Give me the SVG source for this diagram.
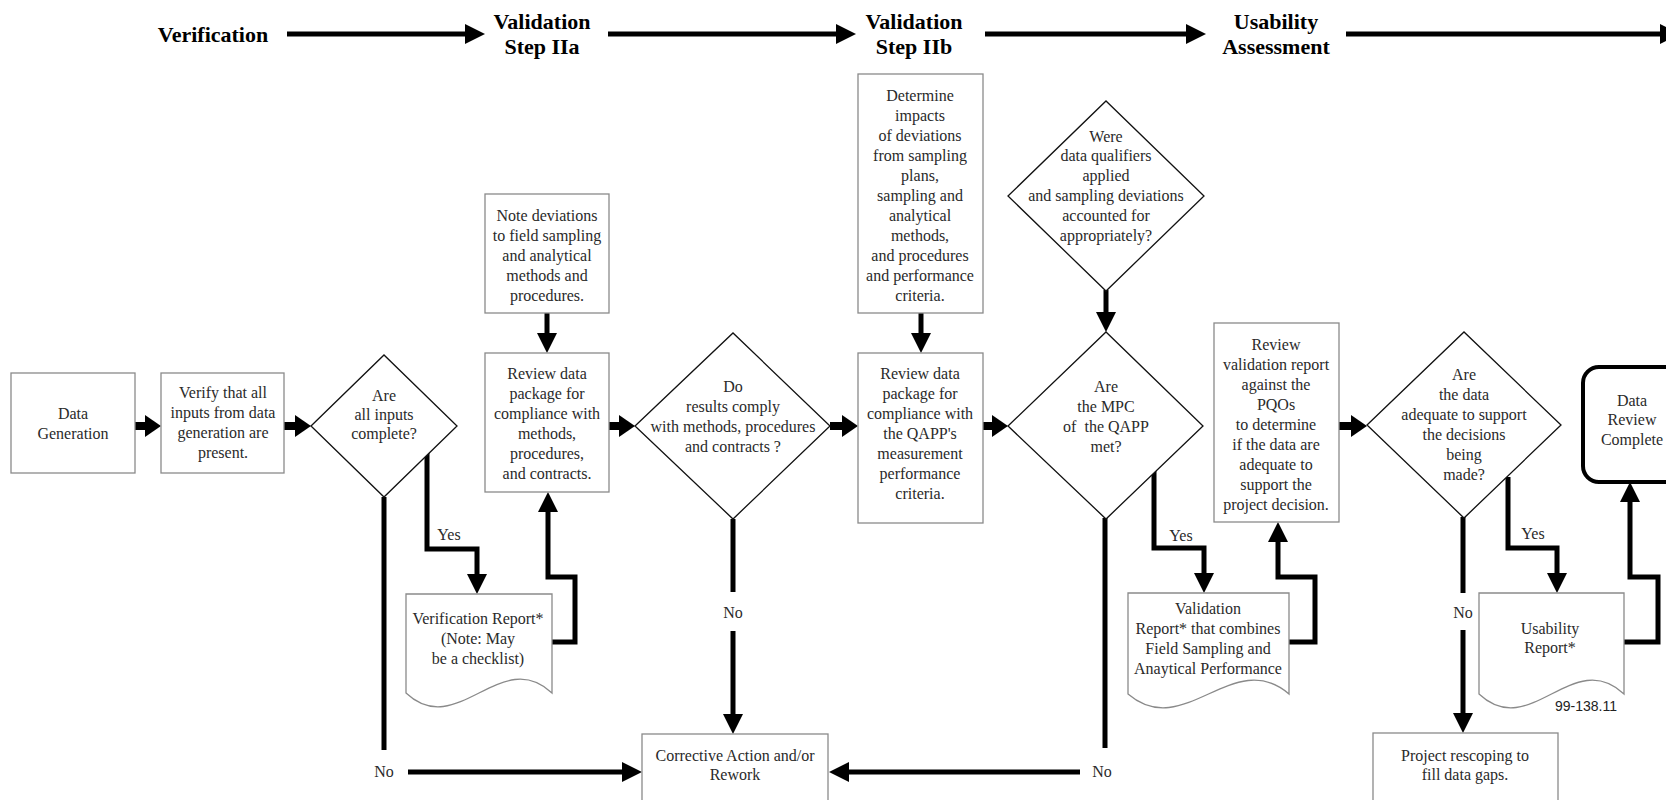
<svg xmlns="http://www.w3.org/2000/svg" width="1666" height="800" viewBox="0 0 1666 800">
<style>
.bx{fill:#fff;stroke:#8a8a8a;stroke-width:1.3}
.dm{fill:#fff;stroke:#111;stroke-width:1.3}
.dc{fill:#fff;stroke:#8a8a8a;stroke-width:1.3}
.t{font-family:"Liberation Serif","Times New Roman",serif;font-size:16px;fill:#2a2a2a;text-anchor:middle}
.h{font-family:"Liberation Serif","Times New Roman",serif;font-size:22px;font-weight:bold;fill:#000;text-anchor:middle}
.code{font-family:"Liberation Sans",Arial,sans-serif;font-size:14px;fill:#222;text-anchor:middle}
.c{fill:none;stroke:#000;stroke-width:5;stroke-linejoin:miter}
.cb{fill:none;stroke:#000;stroke-width:8}
</style>
<defs>
<marker id="ah" markerUnits="userSpaceOnUse" markerWidth="20" markerHeight="20" refX="8" refY="10" orient="auto"><path d="M0,0 L20,10 L0,20 z" fill="#000"/></marker>
<marker id="ahb" markerUnits="userSpaceOnUse" markerWidth="16" markerHeight="22" refX="6" refY="11" orient="auto"><path d="M0,0 L16,11 L0,22 z" fill="#000"/></marker>
</defs>
<rect width="1666" height="800" fill="#fff"/>

<g id="header">
<text class="h" x="213" y="42">Verification</text>
<text class="h" x="542" y="29">Validation</text>
<text class="h" x="542" y="54">Step IIa</text>
<text class="h" x="914" y="29">Validation</text>
<text class="h" x="914" y="54">Step IIb</text>
<text class="h" x="1276" y="29">Usability</text>
<text class="h" x="1276" y="54">Assessment</text>
</g>

<g id="connectors">
<path class="c" d="M287,34 H473" marker-end="url(#ah)"/>
<path class="c" d="M608,34 H844" marker-end="url(#ah)"/>
<path class="c" d="M985,34 H1194" marker-end="url(#ah)"/>
<path class="c" d="M1346,34 H1668" marker-end="url(#ah)"/>

<path class="cb" d="M135,426 H151" marker-end="url(#ahb)"/>
<path class="cb" d="M284,426 H301" marker-end="url(#ahb)"/>
<path class="cb" d="M609,426 H625" marker-end="url(#ahb)"/>
<path class="cb" d="M830,426 H848" marker-end="url(#ahb)"/>
<path class="cb" d="M983,426 H998" marker-end="url(#ahb)"/>
<path class="cb" d="M1339,426 H1357" marker-end="url(#ahb)"/>

<path class="c" d="M427,452 V549 H477 V582" marker-end="url(#ah)"/>
<path class="c" d="M384,497 V750"/>
<path class="c" d="M408,772 H630" marker-end="url(#ah)"/>
<path class="c" d="M552,642 H575 V577 H548 V504" marker-end="url(#ah)"/>
<path class="c" d="M547,313 V341" marker-end="url(#ah)"/>
<path class="c" d="M733,519 V592"/>
<path class="c" d="M733,631 V722" marker-end="url(#ah)"/>
<path class="c" d="M921,313 V341" marker-end="url(#ah)"/>
<path class="c" d="M1106,290 V320" marker-end="url(#ah)"/>
<path class="c" d="M1154,471 V548 H1204 V581" marker-end="url(#ah)"/>
<path class="c" d="M1105,518 V748"/>
<path class="c" d="M1080,772 H841" marker-end="url(#ah)"/>
<path class="c" d="M1289,642 H1315 V577 H1278 V534" marker-end="url(#ah)"/>
<path class="c" d="M1508,477 V548 H1557 V581" marker-end="url(#ah)"/>
<path class="c" d="M1463,517 V593"/>
<path class="c" d="M1463,630 V721" marker-end="url(#ah)"/>
<path class="c" d="M1624,642 H1658 V577 H1630 V494" marker-end="url(#ah)"/>

<text class="t" x="449" y="540">Yes</text>
<text class="t" x="384" y="777">No</text>
<text class="t" x="733" y="618">No</text>
<text class="t" x="1181" y="541">Yes</text>
<text class="t" x="1102" y="777">No</text>
<text class="t" x="1533" y="539">Yes</text>
<text class="t" x="1463" y="618">No</text>
</g>

<g id="data-generation">
<rect class="bx" x="11" y="373" width="124" height="100"/>
<text class="t" x="73" y="419">Data</text>
<text class="t" x="73" y="439">Generation</text>
</g>

<g id="verify-inputs">
<rect class="bx" x="161" y="373" width="123" height="100"/>
<text class="t" x="223" y="398">Verify that all</text>
<text class="t" x="223" y="418">inputs from data</text>
<text class="t" x="223" y="438">generation are</text>
<text class="t" x="223" y="458">present.</text>
</g>

<g id="inputs-complete">
<polygon class="dm" points="311,426 384,355 457,426 384,497"/>
<text class="t" x="384" y="401">Are</text>
<text class="t" x="384" y="420">all inputs</text>
<text class="t" x="384" y="439">complete?</text>
</g>

<g id="verification-report">
<path class="dc" d="M406,594 H552 V693 C501,645 457,741 406,693 Z"/>
<text class="t" x="478" y="624">Verification Report*</text>
<text class="t" x="478" y="644">(Note: May</text>
<text class="t" x="478" y="664">be a checklist)</text>
</g>

<g id="note-deviations">
<rect class="bx" x="485" y="194" width="124" height="119"/>
<text class="t" x="547" y="221">Note deviations</text>
<text class="t" x="547" y="241">to field sampling</text>
<text class="t" x="547" y="261">and analytical</text>
<text class="t" x="547" y="281">methods and</text>
<text class="t" x="547" y="301">procedures.</text>
</g>

<g id="review-package-a">
<rect class="bx" x="485" y="353" width="124" height="139"/>
<text class="t" x="547" y="379">Review data</text>
<text class="t" x="547" y="399">package for</text>
<text class="t" x="547" y="419">compliance with</text>
<text class="t" x="547" y="439">methods,</text>
<text class="t" x="547" y="459">procedures,</text>
<text class="t" x="547" y="479">and contracts.</text>
</g>

<g id="results-comply">
<polygon class="dm" points="635,426 733,333 830,426 733,519"/>
<text class="t" x="733" y="392">Do</text>
<text class="t" x="733" y="412">results comply</text>
<text class="t" x="733" y="432">with methods, procedures</text>
<text class="t" x="733" y="452">and contracts ?</text>
</g>

<g id="corrective-action">
<rect class="bx" x="642" y="734" width="186" height="80"/>
<text class="t" x="735" y="761">Corrective Action and/or</text>
<text class="t" x="735" y="780">Rework</text>
</g>

<g id="determine-impacts">
<rect class="bx" x="858" y="74" width="125" height="239"/>
<text class="t" x="920" y="101">Determine</text>
<text class="t" x="920" y="121">impacts</text>
<text class="t" x="920" y="141">of deviations</text>
<text class="t" x="920" y="161">from sampling</text>
<text class="t" x="920" y="181">plans,</text>
<text class="t" x="920" y="201">sampling and</text>
<text class="t" x="920" y="221">analytical</text>
<text class="t" x="920" y="241">methods,</text>
<text class="t" x="920" y="261">and procedures</text>
<text class="t" x="920" y="281">and performance</text>
<text class="t" x="920" y="301">criteria.</text>
</g>

<g id="review-package-b">
<rect class="bx" x="858" y="353" width="125" height="170"/>
<text class="t" x="920" y="379">Review data</text>
<text class="t" x="920" y="399">package for</text>
<text class="t" x="920" y="419">compliance with</text>
<text class="t" x="920" y="439">the QAPP's</text>
<text class="t" x="920" y="459">measurement</text>
<text class="t" x="920" y="479">performance</text>
<text class="t" x="920" y="499">criteria.</text>
</g>

<g id="qualifiers-applied">
<polygon class="dm" points="1008,196 1106,101 1204,196 1106,291"/>
<text class="t" x="1106" y="142">Were</text>
<text class="t" x="1106" y="161">data qualifiers</text>
<text class="t" x="1106" y="181">applied</text>
<text class="t" x="1106" y="201">and sampling deviations</text>
<text class="t" x="1106" y="221">accounted for</text>
<text class="t" x="1106" y="241">appropriately?</text>
</g>

<g id="mpc-met">
<polygon class="dm" points="1008,426 1106,332 1203,426 1106,519"/>
<text class="t" x="1106" y="392">Are</text>
<text class="t" x="1106" y="412">the MPC</text>
<text class="t" x="1106" y="432" style="white-space:pre">of  the QAPP</text>
<text class="t" x="1106" y="452">met?</text>
</g>

<g id="validation-report">
<path class="dc" d="M1128,593 H1289 V694 C1233,646 1184,742 1128,694 Z"/>
<text class="t" x="1208" y="614">Validation</text>
<text class="t" x="1208" y="634">Report* that combines</text>
<text class="t" x="1208" y="654">Field Sampling and</text>
<text class="t" x="1208" y="674">Anaytical Performance</text>
</g>

<g id="review-validation-report">
<rect class="bx" x="1214" y="323" width="125" height="199"/>
<text class="t" x="1276" y="350">Review</text>
<text class="t" x="1276" y="370">validation report</text>
<text class="t" x="1276" y="390">against the</text>
<text class="t" x="1276" y="410">PQOs</text>
<text class="t" x="1276" y="430">to determine</text>
<text class="t" x="1276" y="450">if the data are</text>
<text class="t" x="1276" y="470">adequate to</text>
<text class="t" x="1276" y="490">support the</text>
<text class="t" x="1276" y="510">project decision.</text>
</g>

<g id="data-adequate">
<polygon class="dm" points="1367,425 1464,332 1561,425 1464,518"/>
<text class="t" x="1464" y="380">Are</text>
<text class="t" x="1464" y="400">the data</text>
<text class="t" x="1464" y="420">adequate to support</text>
<text class="t" x="1464" y="440">the decisions</text>
<text class="t" x="1464" y="460">being</text>
<text class="t" x="1464" y="480">made?</text>
</g>

<g id="usability-report">
<path class="dc" d="M1479,593 H1624 V694 C1573,646 1530,742 1479,694 Z"/>
<text class="t" x="1550" y="634">Usability</text>
<text class="t" x="1550" y="653">Report*</text>
<text class="code" x="1586" y="711">99-138.11</text>
</g>

<g id="project-rescoping">
<rect class="bx" x="1373" y="733" width="185" height="80"/>
<text class="t" x="1465" y="761">Project rescoping to</text>
<text class="t" x="1465" y="780">fill data gaps.</text>
</g>

<g id="data-review-complete">
<rect x="1583" y="367" width="98" height="115" rx="16" fill="#fff" stroke="#000" stroke-width="4"/>
<text class="t" x="1632" y="406">Data</text>
<text class="t" x="1632" y="425">Review</text>
<text class="t" x="1632" y="445">Complete</text>
</g>
</svg>
